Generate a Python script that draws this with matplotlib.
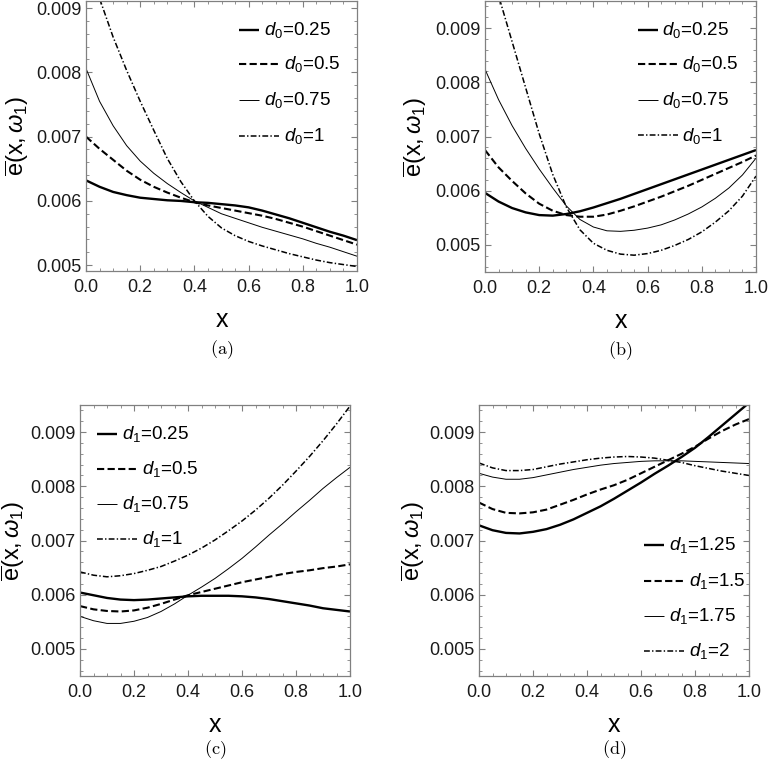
import matplotlib
matplotlib.use("Agg")
import matplotlib.pyplot as plt
from matplotlib.ticker import MultipleLocator, FormatStrFormatter

plt.rcParams['font.family'] = 'Liberation Sans'
plt.rcParams['mathtext.fontset'] = 'custom'
plt.rcParams['mathtext.rm'] = 'Liberation Sans'
plt.rcParams['mathtext.it'] = 'Liberation Sans:italic'
plt.rcParams['mathtext.bf'] = 'Liberation Sans:bold'
plt.rcParams['lines.scale_dashes'] = False

# x samples shared by all curves
x = [0.0, 0.05, 0.1, 0.15, 0.2, 0.25, 0.3, 0.35, 0.4, 0.45, 0.5,
     0.55, 0.6, 0.65, 0.7, 0.75, 0.8, 0.85, 0.9, 0.95, 1.0]

# panel (a): d0 = 0.25, 0.5, 0.75, 1   (values in units of 1e-3)
a_labels = ['0.25', '0.5', '0.75', '1']
a_d025 = [6.32, 6.22, 6.14, 6.09, 6.05, 6.03, 6.01, 6.00, 5.98, 5.97, 5.95,
          5.93, 5.90, 5.85, 5.79, 5.73, 5.66, 5.59, 5.52, 5.46, 5.39]
a_d05 = [7.00, 6.81, 6.64, 6.47, 6.33, 6.22, 6.13, 6.05, 5.98, 5.93, 5.89,
         5.85, 5.81, 5.77, 5.72, 5.66, 5.60, 5.53, 5.46, 5.39, 5.32]
a_d075 = [8.06, 7.55, 7.17, 6.86, 6.62, 6.43, 6.27, 6.13, 6.00, 5.90, 5.80,
          5.73, 5.66, 5.59, 5.53, 5.47, 5.41, 5.34, 5.28, 5.21, 5.14]
a_d1 = [9.85, 9.15, 8.55, 8.03, 7.55, 7.10, 6.66, 6.30, 6.00, 5.76, 5.58,
        5.46, 5.37, 5.30, 5.24, 5.18, 5.13, 5.08, 5.04, 5.01, 4.98]

# panel (b): d0 = 0.25, 0.5, 0.75, 1
b_labels = ['0.25', '0.5', '0.75', '1']
b_d025 = [5.96, 5.80, 5.68, 5.60, 5.55, 5.54, 5.57, 5.62, 5.69, 5.77, 5.85,
          5.94, 6.03, 6.12, 6.21, 6.30, 6.39, 6.48, 6.57, 6.66, 6.75]
b_d05 = [6.75, 6.43, 6.18, 5.95, 5.76, 5.63, 5.55, 5.52, 5.52, 5.56, 5.63,
         5.71, 5.80, 5.89, 5.99, 6.09, 6.20, 6.31, 6.42, 6.53, 6.65]
b_d075 = [8.24, 7.68, 7.20, 6.78, 6.40, 6.05, 5.72, 5.47, 5.33, 5.26, 5.25,
          5.27, 5.31, 5.37, 5.46, 5.57, 5.70, 5.86, 6.05, 6.29, 6.60]
b_d1 = [10.5, 9.60, 8.75, 7.90, 7.05, 6.30, 5.70, 5.28, 5.03, 4.90, 4.83,
        4.81, 4.84, 4.90, 4.99, 5.10, 5.24, 5.42, 5.63, 5.90, 6.27]

# panel (c): d1 = 0.25, 0.5, 0.75, 1
c_labels = ['0.25', '0.5', '0.75', '1']
c_d025 = [6.04, 5.99, 5.94, 5.91, 5.90, 5.91, 5.93, 5.95, 5.97, 5.98, 5.98,
          5.98, 5.97, 5.95, 5.92, 5.88, 5.84, 5.80, 5.75, 5.72, 5.69]
c_d05 = [5.79, 5.73, 5.70, 5.69, 5.71, 5.76, 5.83, 5.91, 5.99, 6.05, 6.11,
         6.17, 6.23, 6.28, 6.33, 6.38, 6.42, 6.45, 6.49, 6.52, 6.56]
c_d075 = [5.60, 5.52, 5.47, 5.47, 5.51, 5.58, 5.69, 5.83, 5.99, 6.14, 6.30,
          6.48, 6.67, 6.88, 7.10, 7.31, 7.53, 7.74, 7.96, 8.16, 8.35]
c_d1 = [6.42, 6.36, 6.33, 6.35, 6.39, 6.45, 6.52, 6.62, 6.73, 6.86, 7.01,
        7.18, 7.36, 7.56, 7.78, 8.02, 8.28, 8.55, 8.84, 9.15, 9.48]

# panel (d): d1 = 1.25, 1.5, 1.75, 2
d_labels = ['1.25', '1.5', '1.75', '2']
d_d125 = [7.28, 7.19, 7.14, 7.13, 7.16, 7.21, 7.29, 7.39, 7.51, 7.63, 7.77,
          7.92, 8.07, 8.23, 8.38, 8.54, 8.71, 8.91, 9.12, 9.33, 9.54]
d_d15 = [7.70, 7.58, 7.51, 7.50, 7.52, 7.57, 7.66, 7.75, 7.85, 7.94, 8.02,
         8.12, 8.24, 8.36, 8.48, 8.60, 8.73, 8.88, 9.02, 9.14, 9.24]
d_d175 = [8.24, 8.17, 8.13, 8.13, 8.16, 8.21, 8.26, 8.31, 8.35, 8.39, 8.42,
          8.44, 8.46, 8.47, 8.47, 8.47, 8.46, 8.45, 8.44, 8.43, 8.42]
d_d2 = [8.43, 8.34, 8.29, 8.29, 8.31, 8.36, 8.41, 8.45, 8.49, 8.52, 8.54,
        8.55, 8.54, 8.52, 8.48, 8.44, 8.38, 8.33, 8.28, 8.24, 8.20]

styles = [dict(lw=1.7, ls='-'),
          dict(lw=1.5, dashes=(5.2, 2.4)),
          dict(lw=0.7, ls='-'),
          dict(lw=1.1, dashes=(4.2, 1.6, 1.0, 1.6))]
short_handle = [True, False, True, False]

W, H = 768, 764
fig = plt.figure(figsize=(W / 100, H / 100), dpi=100)

panels = [
    # left, top, width, height (px), ylim, series, legend name, labels,
    # legend pos, caption, y-label offset, caption offset
    (86, 1, 271, 270, (4.91, 9.11), [a_d025, a_d05, a_d075, a_d1], 'd_0', a_labels,
     (152.5, [29, 63, 99, 134.5]), '(a)', 69, 79),
    (485, 1, 271, 271, (4.5, 9.5), [b_d025, b_d05, b_d075, b_d1], 'd_0', b_labels,
     (152.5, [29, 63, 99, 134.5]), '(b)', 70, 79),
    (80, 405, 270, 271, (4.5, 9.5), [c_d025, c_d05, c_d075, c_d1], 'd_1', c_labels,
     (16.7, [29, 64, 99, 134]), '(c)', 67, 74),
    (479, 405, 270, 271, (4.5, 9.5), [d_d125, d_d15, d_d175, d_d2], 'd_1', d_labels,
     (165.3, [140, 176, 211, 246]), '(d)', 66, 74),
]

frame_col = '#808080'
for left, top, w, h, ylim, series, dname, labels, (lx, lys), cap, yoff, coff in panels:
    ax = fig.add_axes([left / W, 1 - (top + h) / H, w / W, h / H])
    for vals, st in zip(series, styles):
        ax.plot(x, [v * 1e-3 for v in vals], color='black',
                solid_capstyle='butt', dash_capstyle='butt', **st)
    ax.set_xlim(0, 1)
    ax.set_ylim(ylim[0] * 1e-3, ylim[1] * 1e-3)
    ax.xaxis.set_major_locator(MultipleLocator(0.2))
    ax.xaxis.set_minor_locator(MultipleLocator(0.05))
    ax.yaxis.set_major_locator(MultipleLocator(0.001))
    ax.yaxis.set_minor_locator(MultipleLocator(0.0002))
    ax.xaxis.set_major_formatter(FormatStrFormatter('%.1f'))
    ax.yaxis.set_major_formatter(FormatStrFormatter('%.3f'))
    ax.tick_params(which='both', direction='in', top=True, right=True,
                   color=frame_col, labelsize=13, labelcolor='#1a1a1a')
    ax.tick_params(which='major', length=4.5, width=0.8)
    ax.tick_params(which='minor', length=2.3, width=0.6)
    ax.tick_params(axis='x', pad=6)
    ax.tick_params(axis='y', pad=3)
    for sp in ax.spines.values():
        sp.set_color(frame_col)
        sp.set_linewidth(0.9)

    ax.text(0.5, -49 / h, 'x', transform=ax.transAxes, ha='center', va='center',
            fontsize=18)
    ax.text(-yoff / w, 0.5, r'$\overline{\mathrm{e}}\mathrm{(x,}\omega_1\mathrm{)}$',
            transform=ax.transAxes, rotation=90, ha='center', va='center',
            fontsize=17)
    ax.text(0.5, -coff / h, r'$\mathrm{' + cap + '}$', transform=ax.transAxes,
            ha='center', va='center', fontsize=13, math_fontfamily='cm')

    # legend drawn in the Mathematica layout
    for lab, st, short, ly in zip(labels, styles, short_handle, lys):
        hl = 20 if short else 40
        yy = 1 - ly / h
        ax.plot([lx / w, (lx + hl) / w], [yy, yy], transform=ax.transAxes,
                color='black', clip_on=False, solid_capstyle='butt',
                dash_capstyle='butt', **st)
        ax.text((lx + hl + 5) / w, yy, '$' + dname + '$=' + lab,
                transform=ax.transAxes, ha='left', va='center', fontsize=13.5)

fig.savefig('out.png', dpi=100)
